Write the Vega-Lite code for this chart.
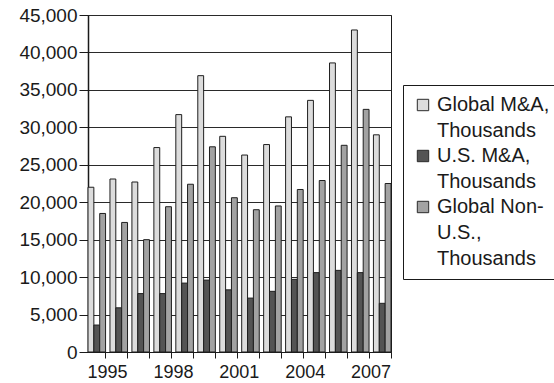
{
  "$schema": "https://vega.github.io/schema/vega-lite/v6.json",
  "autosize": "none",
  "width": 303,
  "height": 337,
  "padding": {"left": 88, "top": 15, "right": 163, "bottom": 31},
  "background": "white",
  "config": {
    "font": "Liberation Sans",
    "view": {"stroke": "#1a1a1a", "strokeWidth": 1}
  },
  "data": {
    "values": [
      {"year": "1995", "series": "Global M&A, Thousands", "deals": 22000},
      {"year": "1995", "series": "U.S. M&A, Thousands", "deals": 3600},
      {"year": "1995", "series": "Global Non-U.S., Thousands", "deals": 18500},
      {"year": "1996", "series": "Global M&A, Thousands", "deals": 23100},
      {"year": "1996", "series": "U.S. M&A, Thousands", "deals": 5900},
      {"year": "1996", "series": "Global Non-U.S., Thousands", "deals": 17300},
      {"year": "1997", "series": "Global M&A, Thousands", "deals": 22700},
      {"year": "1997", "series": "U.S. M&A, Thousands", "deals": 7800},
      {"year": "1997", "series": "Global Non-U.S., Thousands", "deals": 15000},
      {"year": "1998", "series": "Global M&A, Thousands", "deals": 27300},
      {"year": "1998", "series": "U.S. M&A, Thousands", "deals": 7800},
      {"year": "1998", "series": "Global Non-U.S., Thousands", "deals": 19400},
      {"year": "1999", "series": "Global M&A, Thousands", "deals": 31700},
      {"year": "1999", "series": "U.S. M&A, Thousands", "deals": 9200},
      {"year": "1999", "series": "Global Non-U.S., Thousands", "deals": 22400},
      {"year": "2000", "series": "Global M&A, Thousands", "deals": 36900},
      {"year": "2000", "series": "U.S. M&A, Thousands", "deals": 9600},
      {"year": "2000", "series": "Global Non-U.S., Thousands", "deals": 27400},
      {"year": "2001", "series": "Global M&A, Thousands", "deals": 28800},
      {"year": "2001", "series": "U.S. M&A, Thousands", "deals": 8300},
      {"year": "2001", "series": "Global Non-U.S., Thousands", "deals": 20600},
      {"year": "2002", "series": "Global M&A, Thousands", "deals": 26300},
      {"year": "2002", "series": "U.S. M&A, Thousands", "deals": 7200},
      {"year": "2002", "series": "Global Non-U.S., Thousands", "deals": 19000},
      {"year": "2003", "series": "Global M&A, Thousands", "deals": 27700},
      {"year": "2003", "series": "U.S. M&A, Thousands", "deals": 8100},
      {"year": "2003", "series": "Global Non-U.S., Thousands", "deals": 19500},
      {"year": "2004", "series": "Global M&A, Thousands", "deals": 31400},
      {"year": "2004", "series": "U.S. M&A, Thousands", "deals": 9700},
      {"year": "2004", "series": "Global Non-U.S., Thousands", "deals": 21700},
      {"year": "2005", "series": "Global M&A, Thousands", "deals": 33600},
      {"year": "2005", "series": "U.S. M&A, Thousands", "deals": 10600},
      {"year": "2005", "series": "Global Non-U.S., Thousands", "deals": 22900},
      {"year": "2006", "series": "Global M&A, Thousands", "deals": 38600},
      {"year": "2006", "series": "U.S. M&A, Thousands", "deals": 10900},
      {"year": "2006", "series": "Global Non-U.S., Thousands", "deals": 27600},
      {"year": "2007", "series": "Global M&A, Thousands", "deals": 43000},
      {"year": "2007", "series": "U.S. M&A, Thousands", "deals": 10600},
      {"year": "2007", "series": "Global Non-U.S., Thousands", "deals": 32400},
      {"year": "2008", "series": "Global M&A, Thousands", "deals": 29000},
      {"year": "2008", "series": "U.S. M&A, Thousands", "deals": 6500},
      {"year": "2008", "series": "Global Non-U.S., Thousands", "deals": 22500}
    ]
  },
  "mark": {"type": "bar", "stroke": "#1f1f1f", "strokeWidth": 1},
  "encoding": {
    "x": {
      "field": "year",
      "type": "ordinal",
      "scale": {"paddingInner": 0.2, "paddingOuter": 0},
      "axis": {
        "title": null,
        "labelAngle": 0,
        "bandPosition": 1,
        "labelOffset": 10.8,
        "labelOverlap": false,
        "labelExpr": "(toNumber(datum.value) - 1995) % 3 === 0 ? datum.label : ''",
        "labelFontSize": 18,
        "labelColor": "#1a1a1a",
        "labelPadding": 5,
        "tickSize": 6,
        "tickColor": "#1a1a1a",
        "domainColor": "#1a1a1a",
        "grid": false
      }
    },
    "xOffset": {
      "field": "series",
      "sort": ["Global M&A, Thousands", "U.S. M&A, Thousands", "Global Non-U.S., Thousands"],
      "scale": {"paddingInner": 0, "paddingOuter": 0}
    },
    "y": {
      "field": "deals",
      "type": "quantitative",
      "scale": {"domain": [0, 45000], "nice": false},
      "axis": {
        "title": null,
        "values": [0, 5000, 10000, 15000, 20000, 25000, 30000, 35000, 40000, 45000],
        "format": ",d",
        "labelFontSize": 19,
        "labelColor": "#1a1a1a",
        "labelPadding": 2,
        "tickSize": 9,
        "tickColor": "#1a1a1a",
        "domainColor": "#1a1a1a",
        "domainWidth": 1.5,
        "grid": true,
        "gridColor": "#2a2a2a",
        "gridOpacity": 1
      }
    },
    "color": {
      "field": "series",
      "type": "nominal",
      "sort": ["Global M&A, Thousands", "U.S. M&A, Thousands", "Global Non-U.S., Thousands"],
      "scale": {
        "domain": ["Global M&A, Thousands", "U.S. M&A, Thousands", "Global Non-U.S., Thousands"],
        "range": ["#dcdcdc", "#545454", "#a2a2a2"]
      },
      "legend": {
        "title": null,
        "orient": "none",
        "legendX": 315,
        "legendY": 70,
        "direction": "vertical",
        "strokeColor": "#1a1a1a",
        "fillColor": "white",
        "padding": 10,
        "symbolType": "square",
        "symbolSize": 130,
        "symbolStrokeColor": "#2a2a2a",
        "symbolStrokeWidth": 1,
        "symbolOpacity": 1,
        "labelFontSize": 20,
        "labelColor": "#1a1a1a",
        "labelLimit": 200,
        "labelOffset": 4,
        "rowPadding": 5,
        "labelExpr": "datum.label === 'Global M&A, Thousands' ? ['Global M&A,', 'Thousands'] : datum.label === 'U.S. M&A, Thousands' ? ['U.S. M&A,', 'Thousands'] : ['Global Non-', 'U.S.,', 'Thousands']",
        "encode": {
          "labels": {"update": {"lineHeight": {"value": 26}}}
        }
      }
    }
  }
}
